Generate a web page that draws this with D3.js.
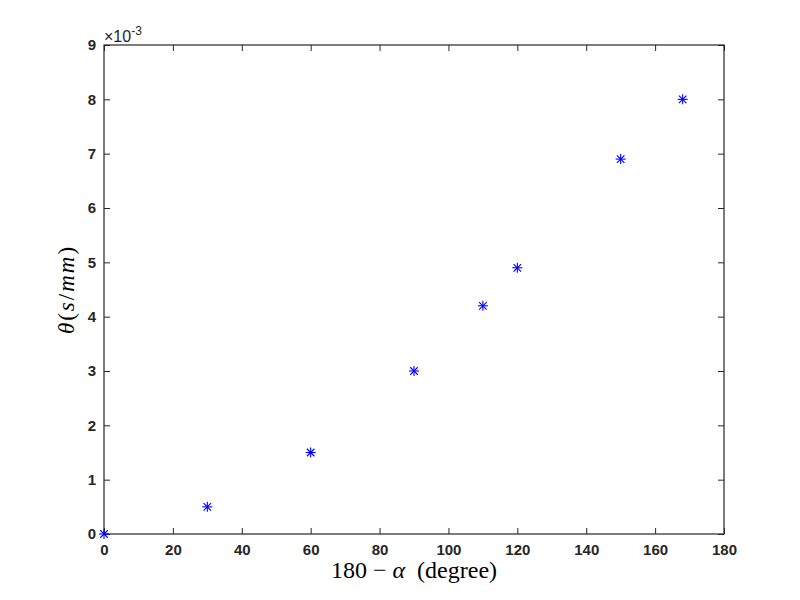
<!DOCTYPE html>
<html><head><meta charset="utf-8">
<script src="https://cdn.jsdelivr.net/npm/d3@7"></script>
<style>body{margin:0;background:#fff}svg{display:block}</style>
</head><body>
<svg id="c" width="800" height="600"></svg>
<script>
const xValues = [0, 30, 60, 90, 110, 120, 150, 168];
const yValues = [0, 0.5, 1.5, 3.0, 4.2, 4.9, 6.9, 8.0]; // ×10^-3
const xTicks = [0, 20, 40, 60, 80, 100, 120, 140, 160, 180];
const yTicks = [0, 1, 2, 3, 4, 5, 6, 7, 8, 9];

const svg = d3.select("#c");
const L = 104, R = 724, T = 45, B = 534;
const x = d3.scaleLinear().domain([0, 180]).range([L, R]);
const y = d3.scaleLinear().domain([0, 9]).range([B, T]);
const axCol = "#262626";
const tickFont = "bold 15px 'Liberation Sans', Arial, sans-serif";

svg.append("rect").attr("width", 800).attr("height", 600).attr("fill", "#fff");

function styleAxis(g) {
  g.select(".domain").remove();
  g.selectAll("line").attr("stroke", axCol).attr("stroke-width", 1);
  g.selectAll("text").attr("fill", axCol).style("font", tickFont);
}
svg.append("g").attr("transform", `translate(0,${B})`)
  .call(d3.axisBottom(x).tickValues(xTicks).tickFormat(d3.format("d")).tickSize(-6).tickPadding(10))
  .call(styleAxis);
svg.append("g").attr("transform", `translate(0,${T})`)
  .call(d3.axisTop(x).tickValues(xTicks).tickFormat("").tickSize(-6))
  .call(styleAxis);
svg.append("g").attr("transform", `translate(${L},0)`)
  .call(d3.axisLeft(y).tickValues(yTicks).tickFormat(d3.format("d")).tickSize(-6).tickPadding(8))
  .call(styleAxis);
svg.append("g").attr("transform", `translate(${R},0)`)
  .call(d3.axisRight(y).tickValues(yTicks).tickFormat("").tickSize(-6))
  .call(styleAxis);

svg.append("rect").attr("x", L).attr("y", T).attr("width", R - L).attr("height", B - T)
  .attr("fill", "none").attr("stroke", axCol).attr("stroke-width", 1.2);

// exponent
const ex = svg.append("text").attr("x", L).attr("y", T - 3)
  .attr("fill", axCol).style("font", "16px 'Liberation Sans', Arial, sans-serif");
ex.append("tspan").text("×10");
ex.append("tspan").attr("dy", -7).style("font-size", "12px").text("-3");

// markers
const pts = svg.append("g");
const s = 5;
xValues.forEach((xv, i) => {
  const cx = x(xv), cy = y(yValues[i]);
  const g = pts.append("g").attr("transform", `translate(${cx},${cy})`)
    .attr("stroke", "#0000ff").attr("stroke-width", 1.1);
  g.append("line").attr("x1", -s).attr("x2", s).attr("y1", 0).attr("y2", 0);
  g.append("line").attr("x1", 0).attr("x2", 0).attr("y1", -s).attr("y2", s);
  const d = s * 0.75;
  g.append("line").attr("x1", -d).attr("x2", d).attr("y1", -d).attr("y2", d);
  g.append("line").attr("x1", -d).attr("x2", d).attr("y1", d).attr("y2", -d);
});

// axis labels
const serif = "'Liberation Serif', 'DejaVu Serif', serif";
const xl = svg.append("text").attr("x", (L + R) / 2).attr("y", 578).attr("text-anchor", "middle")
  .attr("fill", "#000").style("font-family", serif).style("font-size", "24px");
xl.append("tspan").text("180 − ");
xl.append("tspan").style("font-style", "italic").text("α");
xl.append("tspan").text("  (degree)").attr("xml:space", "preserve");

const yl = svg.append("text").attr("transform", `translate(74,${(T + B) / 2}) rotate(-90)`)
  .attr("text-anchor", "middle").attr("fill", "#000").style("font-family", serif)
  .style("font-size", "23px").style("letter-spacing", "2px");
yl.append("tspan").style("font-style", "italic").text("θ");
yl.append("tspan").text("(");
yl.append("tspan").style("font-style", "italic").text("s");
yl.append("tspan").text("/");
yl.append("tspan").style("font-style", "italic").text("mm");
yl.append("tspan").text(")");
</script>
</body></html>
